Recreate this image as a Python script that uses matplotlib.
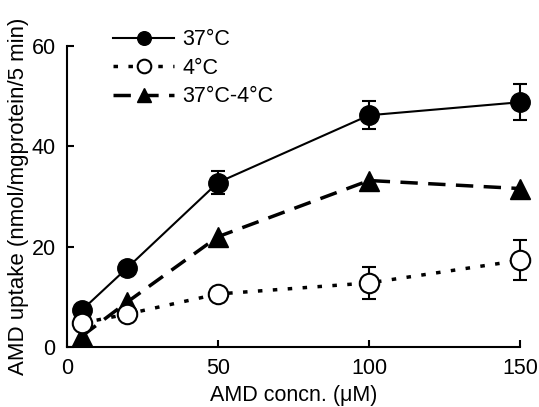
import matplotlib.pyplot as plt

plt.rcParams['font.family'] = ['Liberation Sans', 'DejaVu Sans']

conc = [5, 20, 50, 100, 150]
warm = [7.4, 15.8, 32.8, 46.2, 48.8]
warm_err = [0.8, 0.8, 2.3, 2.8, 3.6]
cold = [4.8, 6.6, 10.6, 12.8, 17.3]
cold_err = [0.8, 0.8, 1.0, 3.2, 4.0]
diff = [2.2, 9.0, 22.0, 33.2, 31.6]

fig = plt.figure(figsize=(5.39, 4.07), dpi=100)
ax = fig.add_axes([0.124, 0.147, 0.841, 0.74])

l1 = ax.errorbar(conc, warm, yerr=warm_err, color='black', lw=1.5, marker='o',
                 ms=14, mfc='black', mec='black', capsize=5, elinewidth=1.5,
                 capthick=1.5, clip_on=False, zorder=3)
l2 = ax.errorbar(conc, cold, yerr=cold_err, color='black', lw=2.5, ls=(0, (1.3, 3)),
                 marker='o', ms=14, mfc='white', mec='black', mew=1.5, capsize=5,
                 elinewidth=1.5, capthick=1.5, clip_on=False, zorder=3)
l3, = ax.plot(conc, diff, color='black', lw=2.5, ls=(0, (5, 3)), marker='^', ms=15,
              mfc='black', mec='black', clip_on=False, zorder=3)

ax.set_xlim(0, 150)
ax.set_ylim(0, 60)
ax.set_xticks([0, 50, 100, 150])
ax.set_yticks([0, 20, 40, 60])
ax.spines['top'].set_visible(False)
ax.spines['right'].set_visible(False)
ax.spines['left'].set_linewidth(1.5)
ax.spines['bottom'].set_linewidth(1.5)
ax.tick_params(direction='in', length=5, width=1.5, labelsize=15.5, pad=8)
ax.set_xlabel('AMD concn. (\u03bcM)', fontsize=15.5, labelpad=4)
ax.set_ylabel('AMD uptake (nmol/mgprotein/5 min)', fontsize=16, labelpad=2)

ax.legend([l1.lines[0], l2.lines[0], l3], ['37°C', '4°C', '37°C-4°C'],
          loc='upper left', bbox_to_anchor=(0.06, 1.12), frameon=False, fontsize=15.5,
          handlelength=2.8, markerscale=0.7, labelspacing=0.35, handletextpad=0.4)

fig.savefig('out.png', dpi=100)
